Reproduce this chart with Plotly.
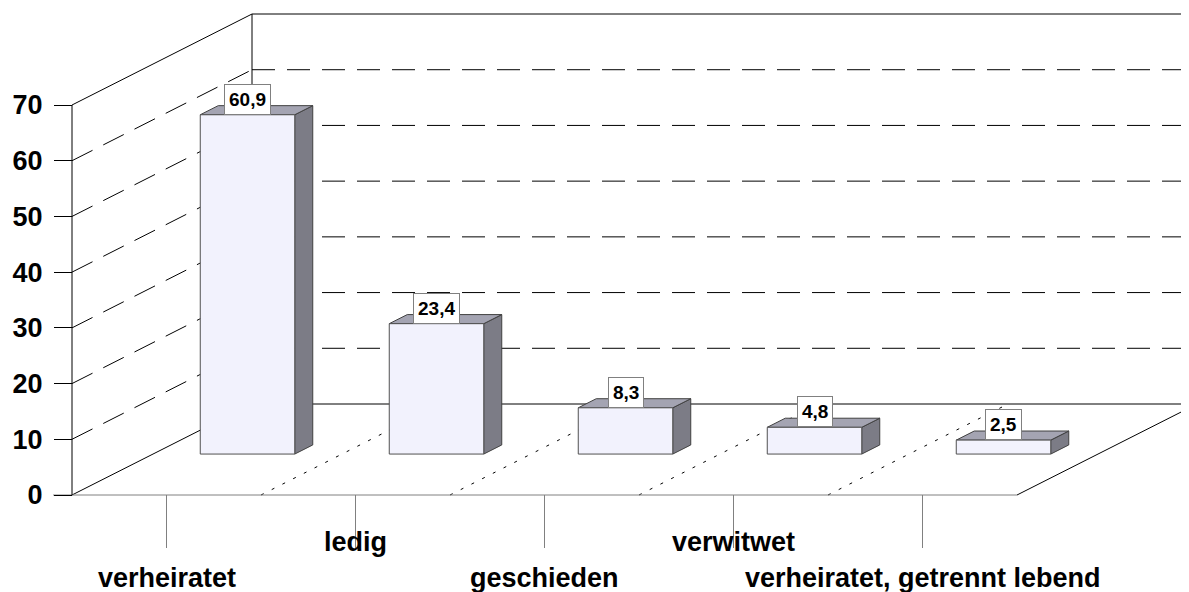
import plotly.graph_objects as go

# ---- data ----
categories = ["verheiratet", "ledig", "geschieden", "verwitwet", "verheiratet, getrennt lebend"]
values = [60.9, 23.4, 8.3, 4.8, 2.5]
value_labels = ["60,9", "23,4", "8,3", "4,8", "2,5"]
y_ticks = [0, 10, 20, 30, 40, 50, 60, 70]

# ---- layout / projection parameters ----
W, H = 1189, 592
OFF = 8                          # page body margin
X0_PX, Y0_PX = 72, 495          # front-left floor corner in page pixels
CAT_PX = 189                     # pixels per category along front
PX_PER_UNIT = 390 / 70           # pixels per value unit
DEPTH_DX_PX, DEPTH_DY_PX = 180, 91
DX = DEPTH_DX_PX / CAT_PX
DY = DEPTH_DY_PX / PX_PER_UNIT
n = len(categories)
VMAX = y_ticks[-1]

xr = [(OFF - X0_PX) / CAT_PX, (W - X0_PX) / CAT_PX]
yr = [(Y0_PX - H) / PX_PER_UNIT, (Y0_PX - OFF) / PX_PER_UNIT]


def P(c, v, t):
    return c + t * DX, v + t * DY


def py2v(py):
    return (Y0_PX - py) / PX_PER_UNIT


fig = go.Figure()


def seg(p1, p2, color="black", width=1, dash="solid"):
    fig.add_trace(go.Scatter(x=[p1[0], p2[0]], y=[p1[1], p2[1]], mode="lines",
                             line=dict(color=color, width=width, dash=dash),
                             hoverinfo="skip", showlegend=False))


def quad(pts, fill, edge):
    xs = [p[0] for p in pts] + [pts[0][0]]
    ys = [p[1] for p in pts] + [pts[0][1]]
    fig.add_trace(go.Scatter(x=xs, y=ys, mode="lines", fill="toself", fillcolor=fill,
                             line=dict(color=edge, width=1), hoverinfo="skip",
                             showlegend=False))


DASH = "23px,12px"
# back wall
for v in y_ticks[1:-1]:
    seg(P(0, v, 1), P(n, v, 1), dash=DASH)
seg(P(0, VMAX, 1), P(n, VMAX, 1))
seg(P(0, 0, 1), P(n, 0, 1))
seg(P(0, 0, 1), P(0, VMAX, 1))
# side wall
for v in y_ticks[1:-1]:
    seg(P(0, v, 0), P(0, v, 1), dash=DASH)
seg(P(0, VMAX, 0), P(0, VMAX, 1))
# floor
seg(P(0, 0, 0), P(0, 0, 1))
seg(P(n, 0, 0), P(n, 0, 1))
for k in range(1, n):
    seg(P(k, 0, 0), P(k, 0, 1), dash="3px,9px")
seg(P(-0.1, 0, 0), P(n, 0, 0), color="#808080")
# front axis
seg(P(0, 0, 0), P(0, VMAX, 0))
# category ticks
for i in range(n):
    seg((i + 0.5, 0), (i + 0.5, py2v(548)), color="#808080")

# bars
T0, T1 = 0.45, 0.55
for i, v in enumerate(values):
    a, b = i + 0.25, i + 0.75
    quad([P(b, 0, T0), P(b, 0, T1), P(b, v, T1), P(b, v, T0)], "#7C7C86", "#404040")
    quad([P(a, v, T0), P(b, v, T0), P(b, v, T1), P(a, v, T1)], "#A4A4B2", "#404040")
    quad([P(a, 0, T0), P(b, 0, T0), P(b, v, T0), P(a, v, T0)], "#F2F2FD", "#505050")

FONT = "Liberation Sans, Arial, sans-serif"
ann = []
for i, (v, lab) in enumerate(zip(values, value_labels)):
    x, y = P(i + 0.5, v, T0)
    ann.append(dict(x=x, y=y, xref="x", yref="y", text=lab, showarrow=False,
                    yanchor="bottom", xanchor="center",
                    font=dict(family=FONT, size=19, color="black", weight="bold"),
                    bgcolor="white", bordercolor="#808080", borderwidth=1, borderpad=4))
for i, c in enumerate(categories):
    ypx = 578 if i % 2 == 0 else 542
    ann.append(dict(x=i + 0.5, y=py2v(ypx), xref="x", yref="y", text=c, showarrow=False,
                    xanchor="center", yanchor="middle",
                    font=dict(family=FONT, size=27, color="black", weight="bold")))

fig.update_layout(
    width=W - OFF, height=H - OFF, margin=dict(l=0, r=0, t=0, b=0),
    paper_bgcolor="white", plot_bgcolor="white", showlegend=False,
    xaxis=dict(range=xr, visible=False, fixedrange=True),
    yaxis=dict(range=yr, anchor="free", position=(X0_PX - OFF) / (W - OFF), showgrid=False,
               zeroline=False, showline=False, tickvals=y_ticks,
               ticktext=[str(t) for t in y_ticks], ticks="outside", ticklen=18,
               tickcolor="black", tickwidth=1, ticklabelstandoff=6,
               tickfont=dict(family=FONT, size=27, color="black", weight="bold"),
               fixedrange=True),
    annotations=ann,
)

fig.write_html("out.html")
